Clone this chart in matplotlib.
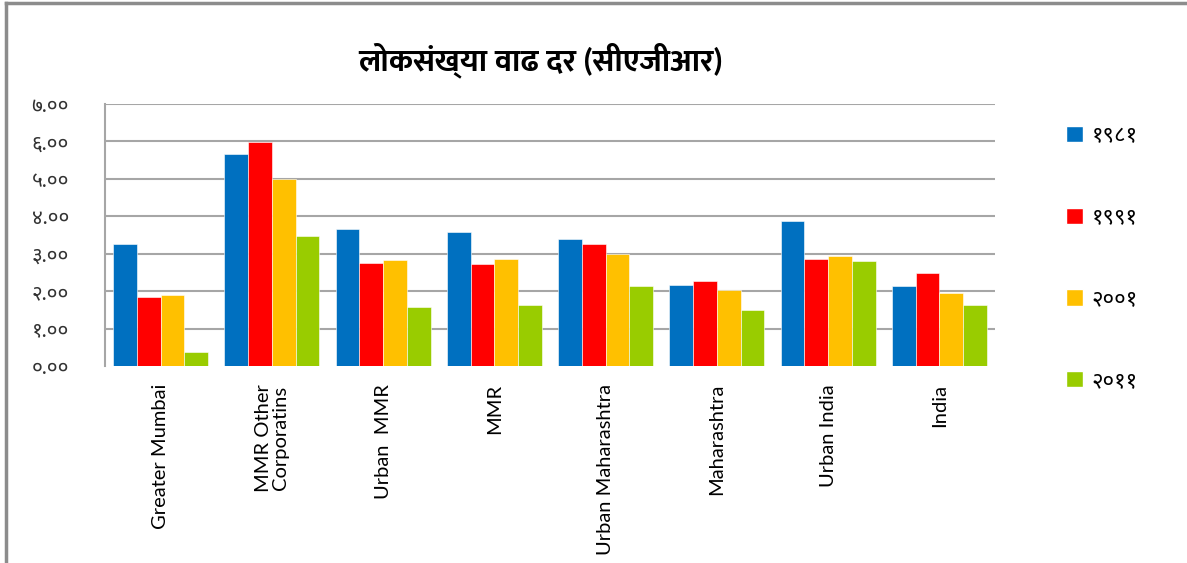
import matplotlib
matplotlib.use("Agg")
import matplotlib.pyplot as plt
from matplotlib import font_manager
from matplotlib.ft2font import FT2Font
from matplotlib.patches import Patch
import numpy as np

# data
categories = ["Greater Mumbai", "MMR Other\nCorporatins", "Urban  MMR", "MMR",
              "Urban Maharashtra", "Maharashtra", "Urban India", "India"]
years = ["१९८१", "१९९१", "२००१", "२०११"]
v1981 = [3.26, 5.67, 3.67, 3.59, 3.38, 2.17, 3.87, 2.13]
v1991 = [1.85, 5.99, 2.74, 2.73, 3.27, 2.28, 2.86, 2.49]
v2001 = [1.89, 5.00, 2.84, 2.85, 2.98, 2.04, 2.93, 1.94]
v2011 = [0.38, 3.47, 1.57, 1.63, 2.13, 1.50, 2.80, 1.62]
yticks = [0, 1, 2, 3, 4, 5, 6, 7]
ytick_labels = ["०.००", "१.००", "२.००", "३.००", "४.००", "५.००", "६.००", "७.००"]
title = "लोकसंख्या वाढ दर (सीएजीआर)"
colors = ["#0070C0", "#FF0000", "#FFC000", "#99CC00"]

# pick installed fonts with Devanagari glyphs
found = {}
for f in font_manager.fontManager.ttflist:
    try:
        if 0x0915 in FT2Font(f.fname).get_charmap():
            found.setdefault(f.name, set()).add(f.weight if isinstance(f.weight, int) else 400)
    except Exception:
        pass
prefs = ["Noto Sans Devanagari", "Mukta", "Hind", "Amiko", "FreeSans"]
deva = next((n for n in prefs if n in found), None)
if deva is None:
    others = [n for n in found if "Unifont" not in n]
    deva = others[0] if others else next(iter(found), None)
deva_bold = next((n for n in prefs if n in found and max(found[n]) >= 600), deva)

fams = ["Lato"] + ([deva] if deva else []) + ["DejaVu Sans"]
plt.rcParams["font.family"] = fams

fig = plt.figure(figsize=(11.87, 5.63), dpi=100)
ax = fig.add_axes([105 / 1187, 1 - 366 / 563, 890 / 1187, 262 / 563])

x = np.arange(len(categories))
w = 0.214
series = [v1981, v1991, v2001, v2011]
for i, vals in enumerate(series):
    ax.bar(x + (i - 1.5) * w, vals, w, color=colors[i], edgecolor="white",
           linewidth=0.4, zorder=3)

ax.set_xlim(-0.5, len(categories) - 0.5)
ax.set_ylim(0, 7)
ax.set_yticks(yticks)
ax.set_yticklabels(ytick_labels, fontsize=15, color="#333333")
ax.tick_params(axis="y", length=0, pad=26)
for t in yticks[1:]:
    ax.axhline(t, color="#a6a6a6", lw=1.5, zorder=1)
ax.set_xticks(x)
ax.set_xticklabels(categories, rotation=90, va="top", ha="center",
                   fontsize=14.5, linespacing=1.0)
ax.tick_params(axis="x", length=0, pad=13)
for s in ["top", "right", "bottom"]:
    ax.spines[s].set_visible(False)
ax.spines["left"].set_color("#a6a6a6")
ax.spines["left"].set_linewidth(1.5)

title_fams = ["Lato"] + ([deva_bold] if deva_bold else []) + ["DejaVu Sans"]
fig.text(540 / 1187, 1 - 60 / 563, title, ha="center", va="center",
         fontsize=22.5, fontweight="bold", family=title_fams)

handles = [Patch(facecolor=c, edgecolor="white") for c in colors]
fig.legend(handles, years, loc="upper left", bbox_to_anchor=(1046 / 1187, 1 - 106 / 563),
           frameon=False, fontsize=16, handlelength=0.75, handleheight=0.75,
           handletextpad=0.4, labelspacing=2.77)

# outer chart border (only left and top visible)
fig.add_artist(plt.Line2D([6 / 1187, 6 / 1187], [0, 1 - 3 / 563], color="#8c8c8c", lw=2.5))
fig.add_artist(plt.Line2D([6 / 1187, 1], [1 - 3 / 563, 1 - 3 / 563], color="#8c8c8c", lw=2.5))

fig.savefig("out.png", dpi=100)
